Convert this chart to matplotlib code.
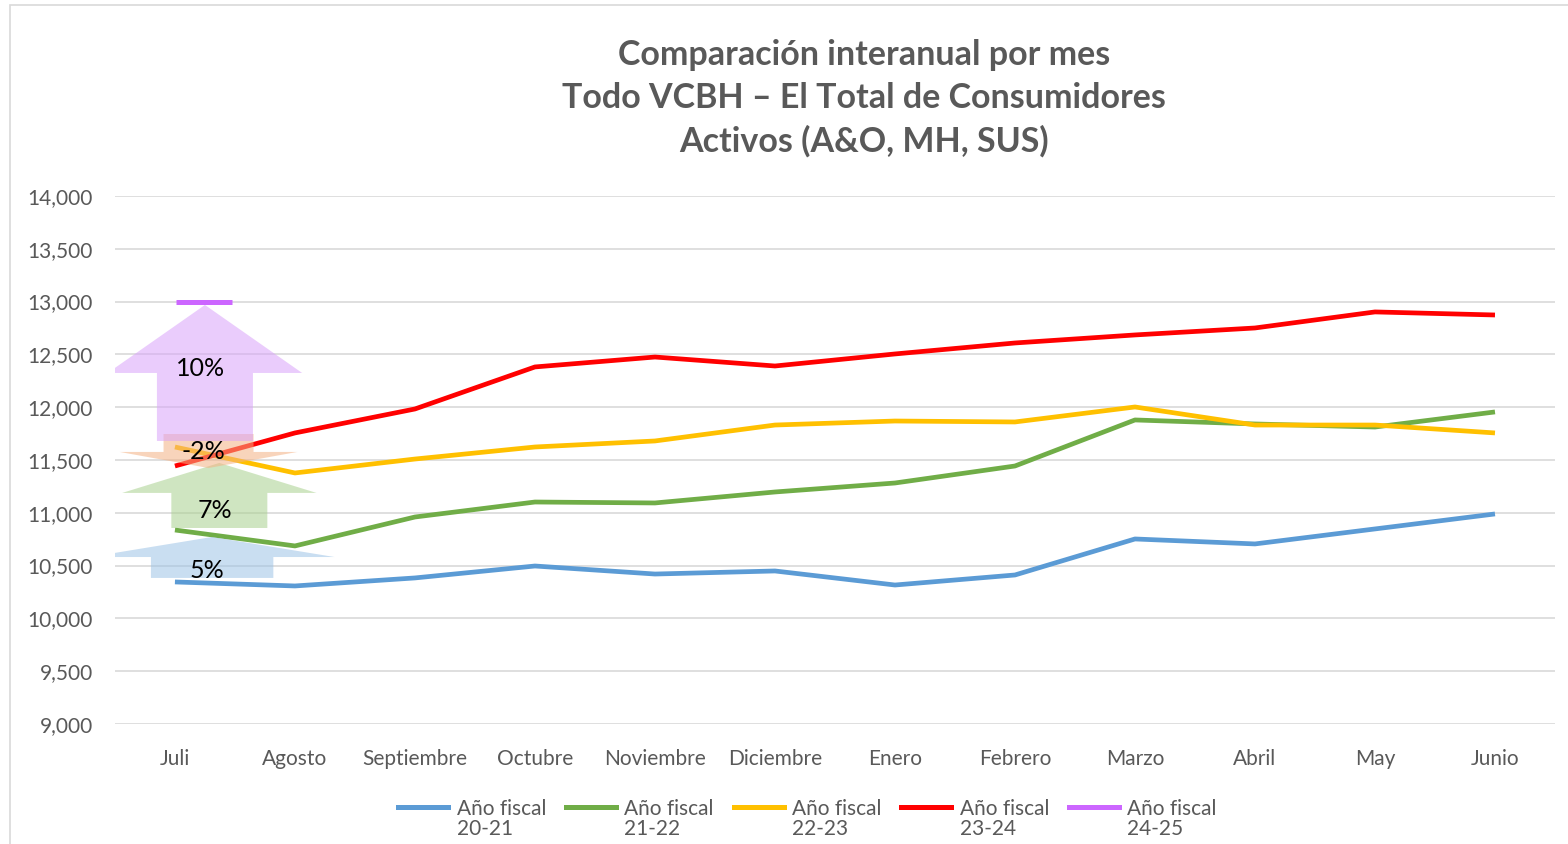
import numpy as np
import matplotlib.pyplot as plt
from matplotlib.lines import Line2D
from matplotlib.patches import Polygon
from matplotlib.transforms import offset_copy
from matplotlib.legend_handler import HandlerLine2D

plt.rcParams['font.family'] = ['Lato', 'DejaVu Sans']

meses = ['Juli', 'Agosto', 'Septiembre', 'Octubre', 'Noviembre', 'Diciembre',
         'Enero', 'Febrero', 'Marzo', 'Abril', 'May', 'Junio']
fy2021 = [10345, 10307, 10383, 10496, 10420, 10449, 10316, 10411, 10752, 10705, 10847, 10989]
fy2122 = [10837, 10686, 10960, 11102, 11093, 11197, 11282, 11443, 11879, 11841, 11812, 11955]
fy2223 = [11623, 11377, 11509, 11623, 11680, 11831, 11869, 11860, 12002, 11831, 11831, 11756]
fy2324 = [11443, 11756, 11983, 12381, 12475, 12390, 12504, 12608, 12684, 12750, 12902, 12873]
fy2425 = [12996]

series = [fy2021, fy2122, fy2223, fy2324]
nombres = ['Año fiscal\n20-21', 'Año fiscal\n21-22', 'Año fiscal\n22-23',
           'Año fiscal\n23-24', 'Año fiscal\n24-25']
colores = ['#5B9BD5', '#70AD47', '#FFC000', '#FF0000', '#CC66FF']

# flechas de cambio interanual en Juli: etiqueta, color, centro x, base, punta,
# inicio de la cabeza, media anchura cuerpo, media anchura cabeza, y del texto
flechas = [
    ('5%', '#9DC3E6', 0.31, 10383, 10771, 10581, 0.51, 1.02, 10450),
    ('7%', '#A9D18E', 0.37, 10856, 11472, 11188, 0.40, 0.81, 11020),
    ('-2%', '#F4B183', 0.28, 11746, 11424, 11576, 0.375, 0.74, 11580),
    ('10%', '#D9A3FA', 0.25, 11680, 12968, 12324, 0.40, 0.81, 12370),
]


class LineaArriba(HandlerLine2D):
    # pone la linea de la leyenda a la altura de la primera linea del texto
    def create_artists(self, legend, orig, xdescent, ydescent, width, height,
                       fontsize, trans):
        arts = super().create_artists(legend, orig, xdescent, ydescent, width,
                                      height, fontsize, trans)
        for a in arts:
            a.set_ydata(np.asarray(a.get_ydata()) + fontsize * 0.62)
        return arts


fig = plt.figure(figsize=(15.68, 8.44), dpi=100)
ax = fig.add_axes([0.0733, 0.1422, 0.9184, 0.6256])

x = list(range(len(meses)))
for vals, c in zip(series, colores):
    ax.plot(x, vals, color=c, lw=3.4, solid_capstyle='butt', zorder=3)

# un solo punto del año 24-25, dibujado como guion
tr = offset_copy(ax.transData, fig=fig, x=29, y=0, units='dots')
ax.plot([0], fy2425, marker='_', ms=41, mew=3.6, color=colores[4],
        transform=tr, zorder=3)

for txt, c, cx, y0, y1, yh, bw, hw, ty in flechas:
    pts = [(cx - bw, y0), (cx + bw, y0), (cx + bw, yh), (cx + hw, yh),
           (cx, y1), (cx - hw, yh), (cx - bw, yh)]
    ax.add_patch(Polygon(pts, closed=True, facecolor=c, edgecolor='none',
                         alpha=0.55, zorder=4))
    ax.text(cx - 0.04, ty, txt, ha='center', va='center', fontsize=18,
            color='black', zorder=5)

ax.set_xlim(-0.5, 11.5)
ax.set_ylim(9000, 14000)
ax.set_yticks(range(9000, 14001, 500))
ax.yaxis.set_major_formatter(plt.FuncFormatter(lambda v, p: f'{int(v):,}'))
ax.set_xticks(x)
ax.set_xticklabels(meses)
ax.grid(axis='y', color='#D9D9D9', lw=1.2)
ax.set_axisbelow(True)
for s in ax.spines.values():
    s.set_visible(False)
ax.tick_params(length=0, labelsize=15, colors='#595959')
ax.tick_params(axis='x', pad=18)
ax.tick_params(axis='y', pad=16)

fig.text(0.551, 0.954, 'Comparación interanual por mes\n'
         'Todo VCBH – El Total de Consumidores\nActivos (A&O, MH, SUS)',
         ha='center', va='top', fontsize=24.5, fontweight='bold',
         color='#595959', linespacing=1.42)

handles = [Line2D([], [], color=c, lw=3.6) for c in colores]
leg = fig.legend(handles, nombres, loc='upper center', bbox_to_anchor=(0.515, 0.066),
                 ncol=5, frameon=False, fontsize=15, handlelength=2.4,
                 handletextpad=0.4, columnspacing=0.95, labelcolor='#595959',
                 borderpad=0, labelspacing=0,
                 handler_map={Line2D: LineaArriba()})
for t in leg.get_texts():
    t.set_linespacing(1.0)

fig.patches.append(plt.Rectangle((0.0065, -0.01), 1.0, 1.004, transform=fig.transFigure,
                                 fill=False, edgecolor='#D9D9D9', lw=1.2))

fig.savefig('out.png', dpi=100)
